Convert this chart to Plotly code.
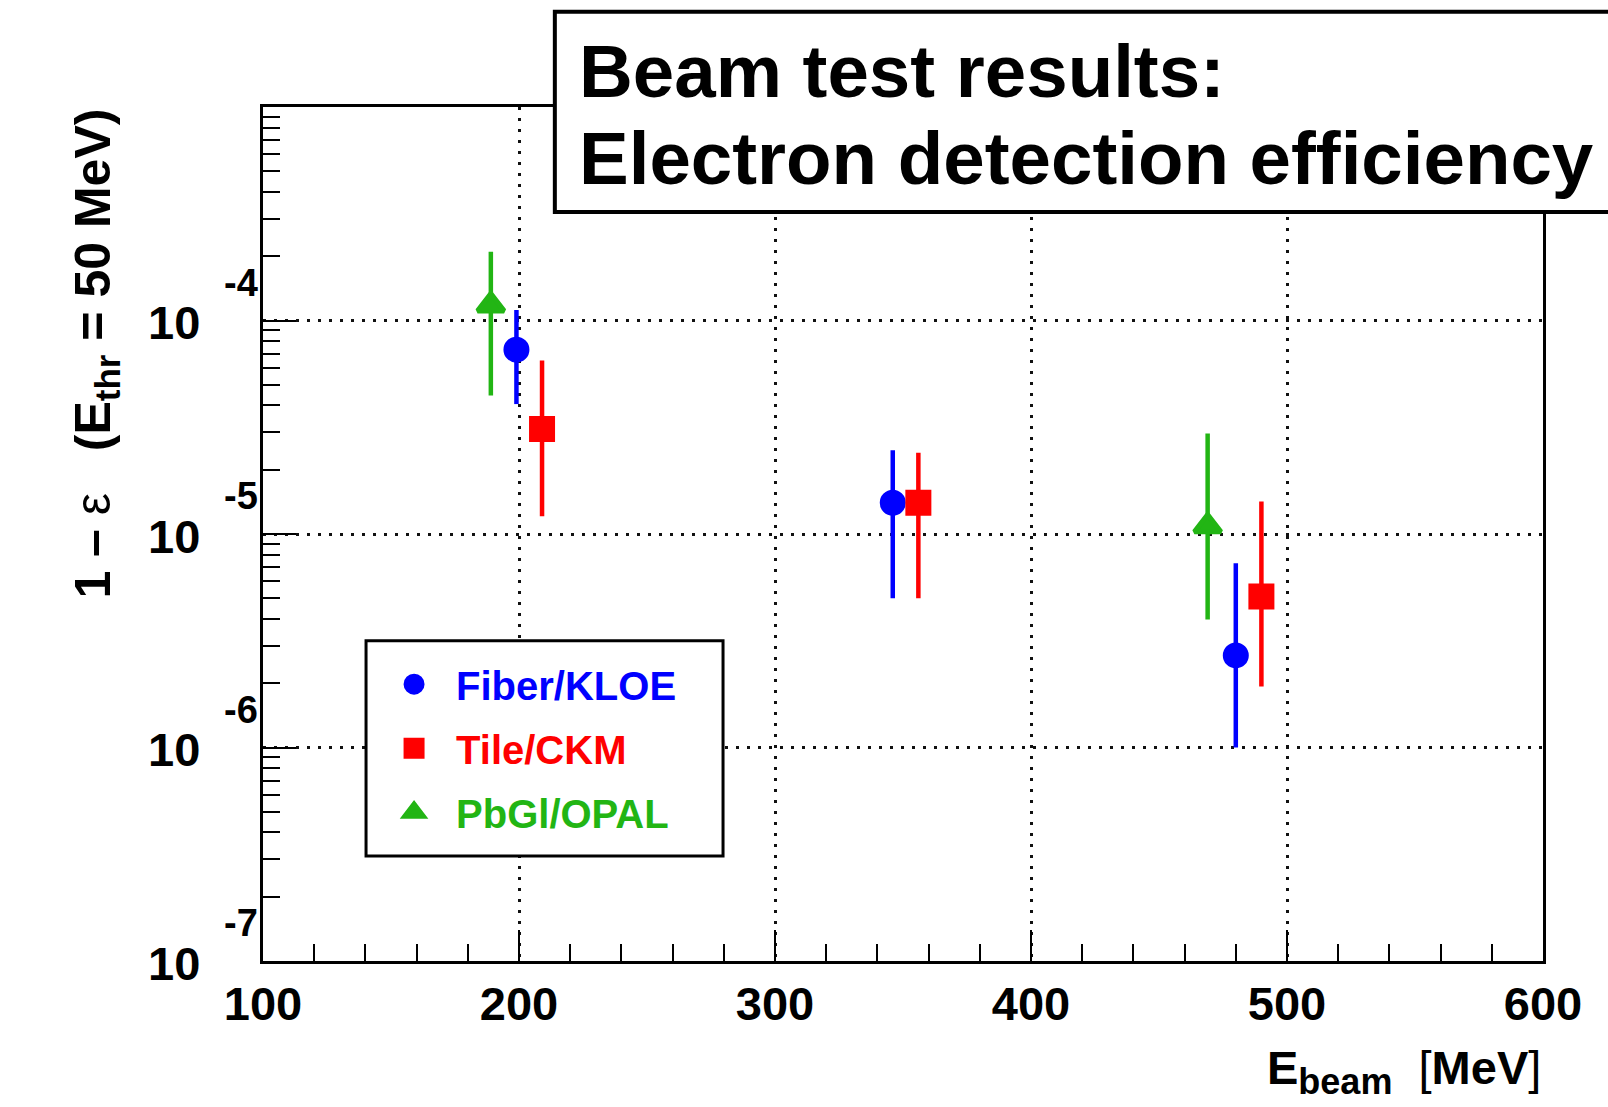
import plotly.graph_objects as go

# ---------------- data ----------------
fiber_energy = [199, 346, 480]
fiber_value = [7.3e-5, 1.40e-5, 2.7e-6]
fiber_high = [1.12e-4, 2.47e-5, 7.3e-6]
fiber_low = [4.06e-5, 5.0e-6, 1.0e-6]

tile_energy = [209, 356, 490]
tile_value = [3.1e-5, 1.40e-5, 5.1e-6]
tile_high = [6.5e-5, 2.4e-5, 1.42e-5]
tile_low = [1.21e-5, 5.0e-6, 1.93e-6]

pbgl_energy = [189, 469]
pbgl_value = [1.18e-4, 1.09e-5]
pbgl_high = [2.1e-4, 2.96e-5]
pbgl_low = [4.45e-5, 3.98e-6]

series_names = ["Fiber/KLOE", "Tile/CKM", "PbGl/OPAL"]
x_tick_values = [100, 200, 300, 400, 500, 600]
y_decades = [-7, -6, -5, -4]
title_lines = ["Beam test results:", "Electron detection efficiency"]

# ---------------- styling ----------------
FONT = "Liberation Sans, Arial, Helvetica, sans-serif"
colors = ["#0000ff", "#ff0000", "#22b514"]
symbols = ["circle", "square", "triangle-up"]
sizes = [21, 21, 23]

series = [
    (fiber_energy, fiber_value, fiber_high, fiber_low),
    (tile_energy, tile_value, tile_high, tile_low),
    (pbgl_energy, pbgl_value, pbgl_high, pbgl_low),
]

fig = go.Figure()
for i, (xs, ys, hi, lo) in enumerate(series):
    fig.add_trace(go.Scatter(
        x=xs, y=ys, mode="markers",
        name=f"<span style='color:{colors[i]}'>{series_names[i]}</span>",
        legendgroup=series_names[i],
        marker=dict(color=colors[i], symbol=symbols[i], size=sizes[i],
                    line=dict(width=5, color=colors[i])),
        error_y=dict(type="data", symmetric=False,
                     array=[h - y for h, y in zip(hi, ys)],
                     arrayminus=[y - l for y, l in zip(ys, lo)],
                     color=colors[i], thickness=4.5, width=0),
    ))

axis_common = dict(
    showline=True, linewidth=3, linecolor="black", mirror=True,
    ticks="inside", tickwidth=2, tickcolor="black",
    showgrid=True, gridcolor="#111111", gridwidth=3, griddash="3px,8px",
    zeroline=False,
)

fig.update_xaxes(
    **axis_common,
    range=[100, 600], tickvals=x_tick_values, ticklen=31,
    tickfont=dict(family=FONT, size=47, color="black", weight="bold"),
    minor=dict(ticks="inside", ticklen=17, tickwidth=2, tickcolor="black", dtick=20, showgrid=False),
)
fig.update_yaxes(
    **axis_common,
    type="log", range=[-7, -3], dtick=1, ticklen=33, showticklabels=False,
    minor=dict(ticks="inside", ticklen=17, tickwidth=2, tickcolor="black", dtick="D1", showgrid=False),
)

annotations = []
# y tick labels in ROOT style: "10" with raised exponent
for k in y_decades:
    annotations.append(dict(xref="paper", yref="y", x=0, y=k, text="10",
                            xanchor="right", yanchor="middle", xshift=-61, yshift=-2,
                            showarrow=False,
                            font=dict(family=FONT, size=47, color="black", weight="bold")))
    annotations.append(dict(xref="paper", yref="y", x=0, y=k, text=str(k),
                            xanchor="left", yanchor="middle", xshift=-41, yshift=38,
                            showarrow=False,
                            font=dict(family=FONT, size=38, color="black", weight="bold")))

# axis titles
annotations.append(dict(xref="paper", yref="paper", x=1.0, y=-0.1675,
                        xanchor="right", yanchor="bottom", showarrow=False,
                        text="<b>E<sub><span style='font-size:36px'>beam</span></sub></b>"
                             "\u00a0\u00a0[<b>MeV</b>]",
                        font=dict(family=FONT, size=47, color="black")))
annotations.append(dict(xref="paper", yref="paper", x=-0.130, y=0.7108,
                        xanchor="center", yanchor="middle", showarrow=False, textangle=-90,
                        text="<b>1 \u2013</b> \u03b5 \u00a0\u00a0<b>(E<sub>thr</sub> = 50 MeV)</b>",
                        font=dict(family=FONT, size=50, color="black")))

# title box text
annotations.append(dict(xref="paper", yref="paper", x=0.2451, y=1.0410,
                        xanchor="left", yanchor="middle", showarrow=False,
                        text=title_lines[0],
                        font=dict(family=FONT, size=74.5, color="black", weight="bold")))
annotations.append(dict(xref="paper", yref="paper", x=0.2451, y=0.9398,
                        xanchor="left", yanchor="middle", showarrow=False,
                        text=title_lines[1],
                        font=dict(family=FONT, size=74.5, color="black", weight="bold")))

shapes = [
    # title box
    dict(type="rect", xref="paper", yref="paper", x0=0.228, x1=1.10, y0=0.8771, y1=1.1116,
         line=dict(color="black", width=4), fillcolor="white", layer="above"),
    # legend frame
    dict(type="rect", xref="paper", yref="paper", x0=0.0805, x1=0.3594, y0=0.1230, y1=0.3751,
         line=dict(color="black", width=3), fillcolor="white", layer="above"),
]

fig.update_layout(
    width=1608, height=1107,
    margin=dict(l=263, r=65, t=107, b=146),
    paper_bgcolor="white", plot_bgcolor="white",
    showlegend=True,
    legend=dict(x=0.0852, y=0.3622, xanchor="left", yanchor="top",
                bgcolor="rgba(0,0,0,0)", borderwidth=0,
                font=dict(family=FONT, size=40, weight="bold"),
                tracegroupgap=9, itemwidth=74),
    annotations=annotations,
    shapes=shapes,
)

fig.write_html("out.html")
